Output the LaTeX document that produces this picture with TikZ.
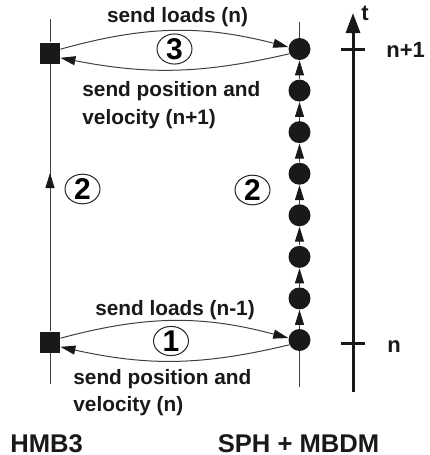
\documentclass[tikz,border=0pt]{standalone}
\usepackage{fontspec}
\setmainfont{Liberation Sans}
\usetikzlibrary{arrows.meta,shapes.geometric}

\begin{document}
\begin{tikzpicture}[x=0.5pt,y=-0.5pt,
    dot/.style={circle,fill=black!90,inner sep=0pt,minimum size=11pt},
    box/.style={rectangle,fill=black!90,inner sep=0pt,minimum width=10pt,minimum height=10.5pt},
    stepnum/.style={ellipse,draw=black!85,line width=0.5pt,inner sep=0pt,minimum width=17.5pt,minimum height=14pt,font=\fontsize{15}{15}\selectfont\bfseries},
    lbl/.style={font=\fontsize{10.4}{13.75}\selectfont\bfseries,inner sep=0pt,text=black!90},
    head/.style={font=\fontsize{12.8}{12.8}\selectfont\bfseries,inner sep=0pt,text=black!90},
    tip/.style={-{Triangle[width=4.5pt,length=7.5pt,color=black!90]}},
    thinline/.style={black!75,line width=0.5pt}]
    \useasboundingbox (0,0) rectangle (429,455);

    % HMB3 side
    \node[box] (sq1) at (50,53) {};
    \node[box] (sq0) at (50,342) {};
    \coordinate (ltop) at (50,19);
    \coordinate (lbot) at (50,384);
    \coordinate (lmid) at (50,173);
    \draw[thinline] (ltop) -- (sq1);
    \draw[thinline] (sq0) -- (sq1);
    \draw[thinline] (sq0) -- (lbot);
    \draw[thinline,tip] (sq0) -- (lmid);

    % SPH side: sub steps
    \foreach \i in {0,...,7}
        \node[dot] (p\i) at (299.5,{340-\i*41.57}) {};
    \foreach \i [count=\j] in {0,...,6}
        \draw[thinline,tip] (p\i) -- (p\j);
    \coordinate (rtop) at (299.5,22);
    \coordinate (rbot) at (299.5,387);
    \draw[thinline] (rtop) -- (p7);
    \draw[thinline] (p0) -- (rbot);

    % exchanges
    \draw[thinline,tip] (sq1.20) to[bend left=15] (p7.170);
    \draw[thinline,tip] (p7.205) to[bend left=12] (sq1.-25);
    \draw[thinline,tip] (sq0.20) to[bend left=15] (p0.170);
    \draw[thinline,tip] (p0.205) to[bend left=13] (sq0.-25);

    \node[stepnum] (s3) at (174.5,49) {3};
    \node[stepnum] (s1) at (171,341) {1};
    \node[stepnum] (s2a) at (82.5,189) {2};
    \node[stepnum] (s2b) at (252.5,190) {2};

    \node[lbl,anchor=base] (loadsn) at (177.5,23) {send loads (n)};
    \node[lbl,anchor=north west,align=left] (posn1) at (82,81.5) {send position and\\velocity (n+1)};
    \node[lbl,anchor=base] (loadsn0) at (175,315) {send loads (n-1)};
    \node[lbl,anchor=north west,align=left] (posn) at (73,369) {send position and\\velocity (n)};

    % time axis
    \coordinate (tbot) at (353,392);
    \coordinate (ttop) at (353,13);
    \draw[black!90,line width=1.5pt,-{Triangle[width=7pt,length=10pt]}] (tbot) -- (ttop);
    \draw[black!90,line width=1.5pt] (341,49) -- (365,49);
    \draw[black!90,line width=1.5pt] (341,343) -- (365,343);
    \node[lbl,anchor=base west,font=\fontsize{11}{11}\selectfont\bfseries] (tlab) at (361,20) {t};
    \node[lbl,anchor=base west,font=\fontsize{11}{11}\selectfont\bfseries] (tn1) at (386,57) {n+1};
    \node[lbl,anchor=base west,font=\fontsize{11}{11}\selectfont\bfseries] (tn0) at (387,352) {n};

    \node[head,anchor=base west] (hmb) at (10,452) {HMB3};
    \node[head,anchor=base] (sph) at (298.5,452) {SPH + MBDM};
\end{tikzpicture}
\end{document}
